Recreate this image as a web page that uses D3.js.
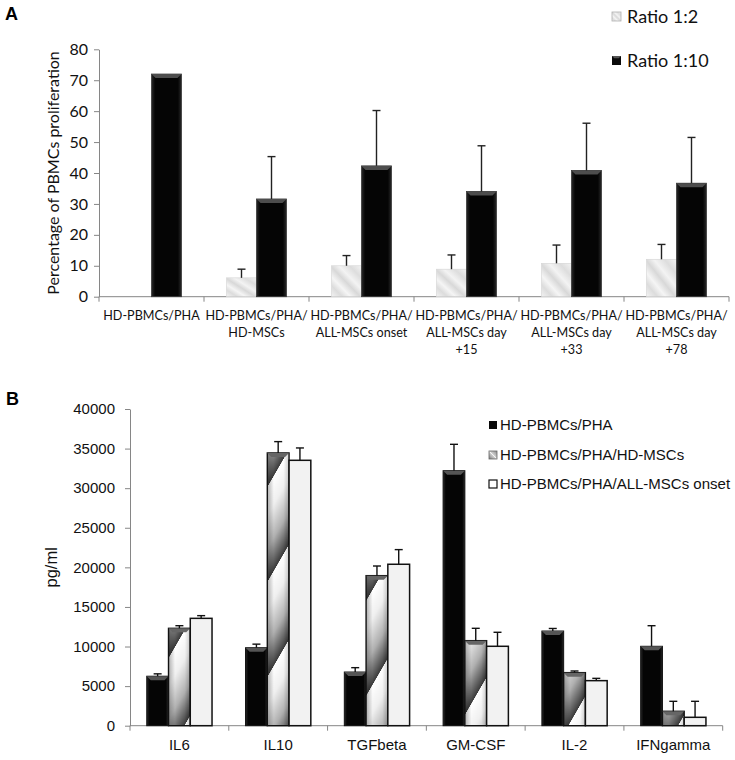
<!DOCTYPE html>
<html>
<head>
<meta charset="utf-8">
<script src="https://cdn.jsdelivr.net/npm/d3@7"></script>
<style>
  html, body { margin: 0; padding: 0; background: #fff; }
  svg { display: block; }
</style>
</head>
<body>
<svg id="chart" width="735" height="760"></svg>
<script>
// ---------- Panel A data ----------
const aCategories = [
  ["HD-PBMCs/PHA"],
  ["HD-PBMCs/PHA/", "HD-MSCs"],
  ["HD-PBMCs/PHA/", "ALL-MSCs onset"],
  ["HD-PBMCs/PHA/", "ALL-MSCs day", "+15"],
  ["HD-PBMCs/PHA/", "ALL-MSCs day", "+33"],
  ["HD-PBMCs/PHA/", "ALL-MSCs day", "+78"]
];
const aSeries = ["Ratio 1:2", "Ratio 1:10"];
const ratio12 = [null, 6.1, 10.0, 8.9, 10.8, 12.1];
const ratio12Err = [null, 2.8, 3.3, 4.6, 5.9, 4.8];
const ratio110 = [72.0, 31.6, 42.3, 34.0, 40.8, 36.7];
const ratio110Err = [0, 13.7, 17.9, 14.8, 15.3, 14.8];
const aTicks = [0, 10, 20, 30, 40, 50, 60, 70, 80];

// ---------- Panel B data ----------
const bCategories = ["IL6", "IL10", "TGFbeta", "GM-CSF", "IL-2", "IFNgamma"];
const bSeries = ["HD-PBMCs/PHA", "HD-PBMCs/PHA/HD-MSCs", "HD-PBMCs/PHA/ALL-MSCs onset"];
const pha = [6250, 9850, 6780, 32210, 11960, 10030];
const phaErr = [300, 450, 550, 3330, 320, 2600];
const hdMsc = [12300, 34450, 18950, 10740, 6700, 1820];
const hdMscErr = [330, 1430, 1220, 1560, 210, 1260];
const allMsc = [13560, 33520, 20390, 10030, 5690, 1060];
const allMscErr = [340, 1560, 1850, 1770, 290, 2020];
const bTicks = [0, 5000, 10000, 15000, 20000, 25000, 30000, 35000, 40000];

const svg = d3.select("#chart");
const axisColor = "#868686";
const fontA = "Lato, 'Open Sans', sans-serif";
const fontB = "'Liberation Sans', Arial, sans-serif";

// ---------- defs ----------
const defs = svg.append("defs");
const marble = defs.append("linearGradient").attr("id", "marble")
  .attr("x1", "0").attr("y1", "1").attr("x2", "1").attr("y2", "0");
[[0, "#f3f3f3"], [0.18, "#dcdcdc"], [0.32, "#f5f5f5"], [0.48, "#d8d8d8"], [0.62, "#f3f3f3"], [0.8, "#dddddd"], [1, "#f4f4f4"]]
  .forEach(([o, c]) => marble.append("stop").attr("offset", o).attr("stop-color", c));

const blackGrad = defs.append("linearGradient").attr("id", "blackGrad")
  .attr("x1", "0").attr("x2", "1").attr("y1", "0").attr("y2", "0");
[[0, "#2a2a2a"], [0.12, "#050505"], [0.88, "#050505"], [1, "#2a2a2a"]]
  .forEach(([o, c]) => blackGrad.append("stop").attr("offset", o).attr("stop-color", c));

const stripeGrad = defs.append("linearGradient").attr("id", "stripeGrad")
  .attr("x1", "0").attr("x2", "0").attr("y1", "0").attr("y2", "1");
[[0, "#ffffff"], [0.3, "#efefef"], [0.65, "#b0b0b0"], [1, "#3a3a3a"]]
  .forEach(([o, c]) => stripeGrad.append("stop").attr("offset", o).attr("stop-color", c));
const hatch = defs.append("pattern").attr("id", "hatch")
  .attr("patternUnits", "userSpaceOnUse")
  .attr("width", 800).attr("height", 95)
  .attr("patternTransform", "skewY(-60)");
hatch.append("rect").attr("width", 800).attr("height", 95).attr("fill", "url(#stripeGrad)");

const legHatch = defs.append("linearGradient").attr("id", "legHatch")
  .attr("x1", "0").attr("y1", "1").attr("x2", "1").attr("y2", "0");
[[0, "#777"], [0.45, "#cfcfcf"], [0.5, "#f5f5f5"], [0.55, "#cfcfcf"], [1, "#888"]]
  .forEach(([o, c]) => legHatch.append("stop").attr("offset", o).attr("stop-color", c));

const shade = defs.append("linearGradient").attr("id", "shade")
  .attr("x1", "0").attr("x2", "1").attr("y1", "0").attr("y2", "0");
[[0, "rgba(0,0,0,0.3)"], [0.3, "rgba(0,0,0,0)"], [0.75, "rgba(0,0,0,0)"], [1, "rgba(0,0,0,0.18)"]]
  .forEach(([o, c]) => shade.append("stop").attr("offset", o).attr("stop-color", c));

// ================= Panel A =================
const xA = d3.scaleBand().domain(d3.range(aCategories.length)).range([99, 729]).padding(0);
const xA1 = d3.scaleBand().domain(aSeries).range([0, xA.bandwidth()]).paddingInner(0).paddingOuter(0.75);
const yA = d3.scaleLinear().domain([0, 80]).range([296.7, 49.3]);

const gA = svg.append("g");
const yAxisA = gA.append("g").attr("transform", `translate(${xA.range()[0]},0)`)
  .call(d3.axisLeft(yA).tickValues(aTicks).tickSize(5).tickSizeOuter(0).tickPadding(6));
yAxisA.select(".domain").attr("stroke", axisColor);
yAxisA.selectAll(".tick line").attr("stroke", axisColor);
yAxisA.selectAll(".tick text").attr("font-family", fontA).attr("font-size", 16).attr("fill", "#111");

gA.append("line").attr("x1", xA.range()[0]).attr("x2", xA.range()[1])
  .attr("y1", yA(0)).attr("y2", yA(0)).attr("stroke", axisColor);
const aBounds = d3.range(aCategories.length).map(i => xA(i)).concat([xA.range()[1]]);
gA.selectAll(".xtA").data(aBounds).join("line")
  .attr("x1", d => d).attr("x2", d => d).attr("y1", yA(0)).attr("y2", yA(0) + 5)
  .attr("stroke", axisColor);

const aLabels = gA.selectAll(".xlA").data(aCategories).join("text")
  .attr("font-family", fontA).attr("font-size", 12.6).attr("fill", "#111")
  .attr("text-anchor", "middle");
aLabels.each(function (lines, i) {
  const t = d3.select(this);
  lines.forEach((ln, j) => {
    t.append("tspan").attr("x", xA(i) + xA.bandwidth() / 2).attr("y", 320 + j * 17).text(ln);
  });
});

function bevel(g, x, y, w, color) {
  const d = Math.min(4, w / 4);
  g.append("polygon")
    .attr("points", `${x},${y} ${x + w},${y} ${x + w - d},${y + d} ${x + d},${y + d}`)
    .attr("fill", color);
}

function errBar(g, cx, yTop, yErr, cap, col) {
  g.append("line").attr("x1", cx).attr("x2", cx).attr("y1", yTop).attr("y2", yErr)
    .attr("stroke", col).attr("stroke-width", 1.4);
  g.append("line").attr("x1", cx - cap / 2).attr("x2", cx + cap / 2).attr("y1", yErr).attr("y2", yErr)
    .attr("stroke", col).attr("stroke-width", 1.4);
}

ratio12.forEach((v, i) => {
  if (v == null) return;
  const x = xA(i) + xA1(aSeries[0]);
  const w = xA1.bandwidth();
  gA.append("rect").attr("x", x).attr("y", yA(v)).attr("width", w).attr("height", yA(0) - yA(v))
    .attr("fill", "url(#marble)").attr("stroke", "#d4d4d4").attr("stroke-width", 0.6);
  errBar(gA, x + w / 2, yA(v), yA(v + ratio12Err[i]), 8, "#222");
});
ratio110.forEach((v, i) => {
  const x = xA(i) + xA1(aSeries[1]);
  const w = xA1.bandwidth();
  gA.append("rect").attr("x", x).attr("y", yA(v)).attr("width", w).attr("height", yA(0) - yA(v))
    .attr("fill", "url(#blackGrad)").attr("stroke", "#3a3a3a").attr("stroke-width", 0.8);
  bevel(gA, x, yA(v), w, "#4d4d4d");
  if (ratio110Err[i] > 0) errBar(gA, x + w / 2, yA(v), yA(v + ratio110Err[i]), 8, "#222");
});

gA.append("text")
  .attr("transform", `translate(59,${(yA(0) + yA(80)) / 2}) rotate(-90)`)
  .attr("text-anchor", "middle").attr("font-family", fontA).attr("font-size", 16).attr("fill", "#111")
  .text("Percentage of PBMCs proliferation");

const legA = gA.append("g");
const legAY = [12, 56];
aSeries.forEach((s, i) => {
  const g = legA.append("g");
  if (i === 0) {
    g.append("rect").attr("x", 612).attr("y", legAY[i]).attr("width", 9).attr("height", 9)
      .attr("fill", "url(#marble)").attr("stroke", "#b0b0b0").attr("stroke-width", 0.8);
  } else {
    g.append("rect").attr("x", 612).attr("y", legAY[i]).attr("width", 9).attr("height", 9)
      .attr("fill", "#0a0a0a");
    bevel(g, 612, legAY[i], 9, "#555");
  }
  g.append("text").attr("x", 627).attr("y", legAY[i] + 10.5).attr("font-family", fontA)
    .attr("font-size", 18).attr("fill", "#111").text(s);
});

svg.append("text").attr("x", 5).attr("y", 20).attr("font-family", fontB).attr("font-weight", "bold")
  .attr("font-size", 18).attr("fill", "#000").text("A");

// ================= Panel B =================
const xB = d3.scaleBand().domain(bCategories).range([130, 722.7]).padding(0);
const xB1 = d3.scaleBand().domain(bSeries).range([0, xB.bandwidth()]).paddingInner(0).paddingOuter(0.77);
const yB = d3.scaleLinear().domain([0, 40000]).range([725.7, 409]);
const gB = svg.append("g");

const yAxisB = gB.append("g").attr("transform", `translate(${xB.range()[0]},0)`)
  .call(d3.axisLeft(yB).tickValues(bTicks).tickFormat(d3.format("d")).tickSize(5).tickSizeOuter(0).tickPadding(10));
yAxisB.select(".domain").attr("stroke", axisColor);
yAxisB.selectAll(".tick line").attr("stroke", axisColor);
yAxisB.selectAll(".tick text").attr("font-family", fontB).attr("font-size", 15).attr("fill", "#111");

gB.append("line").attr("x1", xB.range()[0]).attr("x2", xB.range()[1])
  .attr("y1", yB(0)).attr("y2", yB(0)).attr("stroke", axisColor);
const bBounds = bCategories.map(c => xB(c)).concat([xB.range()[1]]);
gB.selectAll(".xtB").data(bBounds).join("line")
  .attr("x1", d => d).attr("x2", d => d).attr("y1", yB(0)).attr("y2", yB(0) + 5)
  .attr("stroke", axisColor);
gB.selectAll(".xlB").data(bCategories).join("text")
  .attr("x", d => xB(d) + xB.bandwidth() / 2).attr("y", 750)
  .attr("text-anchor", "middle").attr("font-family", fontB).attr("font-size", 15).attr("fill", "#111")
  .text(d => d);

const bValues = [pha, hdMsc, allMsc];
const bErrs = [phaErr, hdMscErr, allMscErr];
bCategories.forEach((c, i) => {
  bSeries.forEach((s, k) => {
    const v = bValues[k][i];
    const x = xB(c) + xB1(s);
    const w = xB1.bandwidth();
    const y = yB(v), h = yB(0) - yB(v);
    if (k === 0) {
      gB.append("rect").attr("x", x).attr("y", y).attr("width", w).attr("height", h)
        .attr("fill", "url(#blackGrad)").attr("stroke", "#111").attr("stroke-width", 1);
      bevel(gB, x, y, w, "#555");
    } else if (k === 1) {
      gB.append("rect").attr("x", x).attr("y", y).attr("width", w).attr("height", h)
        .attr("fill", "url(#hatch)");
      gB.append("rect").attr("x", x).attr("y", y).attr("width", w).attr("height", h)
        .attr("fill", "url(#shade)").attr("stroke", "#111").attr("stroke-width", 1.4);
      bevel(gB, x, y, w, "#666");
    } else {
      gB.append("rect").attr("x", x).attr("y", y).attr("width", w).attr("height", h)
        .attr("fill", "#f2f2f2").attr("stroke", "#111").attr("stroke-width", 1.5);
    }
    errBar(gB, x + w / 2, y, yB(v + bErrs[k][i]), 8, "#111");
  });
});

gB.append("text")
  .attr("transform", `translate(57,${(yB(0) + yB(40000)) / 2}) rotate(-90)`)
  .attr("text-anchor", "middle").attr("font-family", fontB).attr("font-size", 16.5).attr("fill", "#111")
  .text("pg/ml");

const legBY = [421, 451, 480];
bSeries.forEach((s, i) => {
  const g = gB.append("g");
  const sq = g.append("rect").attr("x", 489).attr("y", legBY[i]).attr("width", 8).attr("height", 8);
  if (i === 0) sq.attr("fill", "#0a0a0a");
  else if (i === 1) sq.attr("fill", "url(#legHatch)").attr("stroke", "#666").attr("stroke-width", 0.8);
  else sq.attr("fill", "#fff").attr("stroke", "#111").attr("stroke-width", 1.2);
  g.append("text").attr("x", 500).attr("y", legBY[i] + 9).attr("font-family", fontB)
    .attr("font-size", 15).attr("fill", "#111").text(s);
});

svg.append("text").attr("x", 6).attr("y", 405).attr("font-family", fontB).attr("font-weight", "bold")
  .attr("font-size", 18).attr("fill", "#000").text("B");
</script>
</body>
</html>
